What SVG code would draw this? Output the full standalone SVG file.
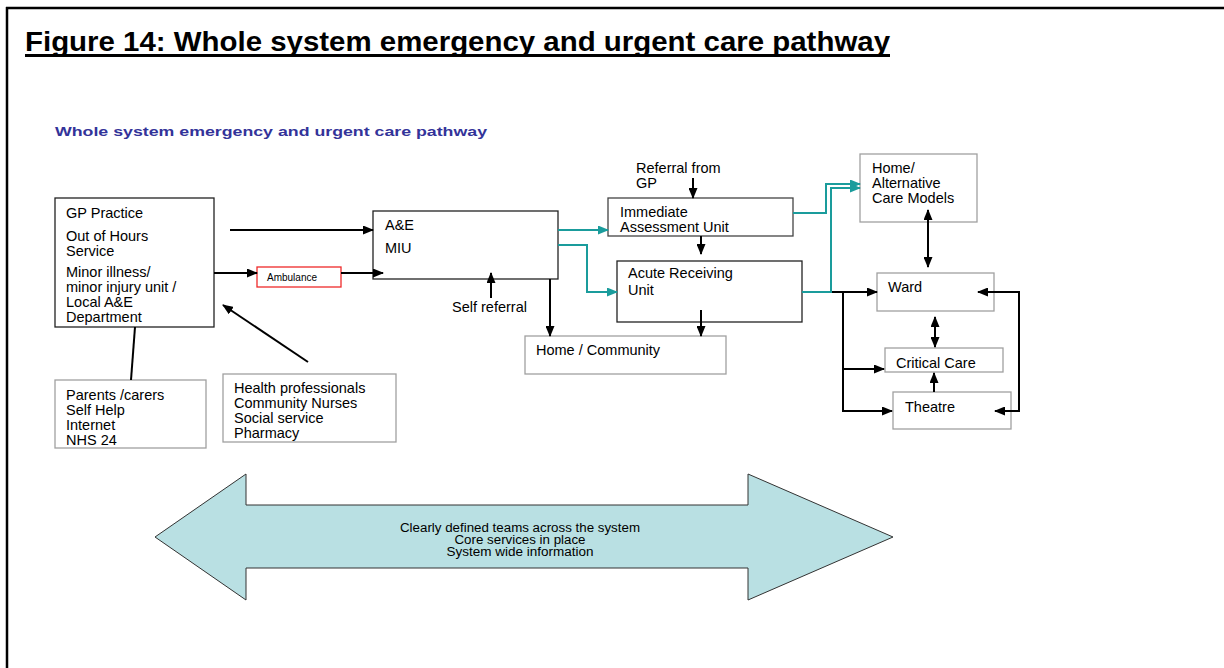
<svg xmlns="http://www.w3.org/2000/svg" width="1224" height="668" viewBox="0 0 1224 668">
<defs>
<marker id="ah" markerUnits="userSpaceOnUse" markerWidth="11" markerHeight="9" refX="10" refY="4.5" orient="auto"><path d="M0,0 L11,4.5 L0,9 z" fill="#000"/></marker>
<marker id="ahs" markerUnits="userSpaceOnUse" markerWidth="11" markerHeight="9" refX="10" refY="4.5" orient="auto-start-reverse"><path d="M0,0 L11,4.5 L0,9 z" fill="#000"/></marker>
<marker id="at" markerUnits="userSpaceOnUse" markerWidth="11" markerHeight="9" refX="10" refY="4.5" orient="auto"><path d="M0,0 L11,4.5 L0,9 z" fill="#1a9c9c"/></marker>
</defs>
<style>
text{font-family:"Liberation Sans",Arial,sans-serif;fill:#000}
.t{font-size:14.5px}
.bk{fill:#fff;stroke:#222;stroke-width:1.3}
.gy{fill:#fff;stroke:#a0a0a0;stroke-width:1.3}
.c{fill:none;stroke:#000;stroke-width:2}
.tl{fill:none;stroke:#1a9c9c;stroke-width:2}
.n{font-size:12.5px}
</style>
<rect x="0" y="0" width="1224" height="668" fill="#fff"/>
<g id="frame">
<line x1="6" y1="8" x2="1224" y2="8" stroke="#000" stroke-width="2.5"/>
<line x1="7" y1="7" x2="7" y2="668" stroke="#000" stroke-width="2.5"/>
</g>
<g id="title">
<text x="25" y="51" font-size="27" font-weight="bold" textLength="865" lengthAdjust="spacingAndGlyphs">Figure 14: Whole system emergency and urgent care pathway</text>
<line x1="25" y1="55.5" x2="890" y2="55.5" stroke="#000" stroke-width="3"/>
<text x="55" y="136" font-size="13" font-weight="bold" style="fill:#333399" textLength="432" lengthAdjust="spacingAndGlyphs">Whole system emergency and urgent care pathway</text>
</g>
<g id="gp">
<rect class="bk" x="55" y="198" width="159" height="129"/>
<text class="t" x="66" y="218">GP Practice</text>
<text class="t" x="66" y="241">Out of Hours</text>
<text class="t" x="66" y="256">Service</text>
<text class="t" x="66" y="277">Minor illness/</text>
<text class="t" x="66" y="292">minor injury unit /</text>
<text class="t" x="66" y="307">Local A&amp;E</text>
<text class="t" x="66" y="322">Department</text>
</g>
<g id="ambulance">
<rect x="257" y="267" width="84" height="20" fill="#fff" stroke="#ee2a2a" stroke-width="1.3"/>
<text x="267" y="281" font-size="10">Ambulance</text>
</g>
<g id="ae">
<rect class="bk" x="373" y="211" width="185" height="68"/>
<text class="t" x="385" y="230">A&amp;E</text>
<text class="t" x="385" y="253">MIU</text>
</g>
<g id="selfref">
<text class="t" x="452" y="312">Self referral</text>
</g>
<g id="parents">
<rect class="gy" x="55" y="380" width="151" height="68"/>
<text class="t" x="66" y="400">Parents /carers</text>
<text class="t" x="66" y="415">Self Help</text>
<text class="t" x="66" y="430">Internet</text>
<text class="t" x="66" y="445">NHS 24</text>
</g>
<g id="health">
<rect class="gy" x="223" y="374" width="173" height="68"/>
<text class="t" x="234" y="393">Health professionals</text>
<text class="t" x="234" y="408">Community Nurses</text>
<text class="t" x="234" y="423">Social service</text>
<text class="t" x="234" y="438">Pharmacy</text>
</g>
<g id="homecommunity">
<rect class="gy" x="525" y="336" width="201" height="38"/>
<text class="t" x="536" y="355">Home / Community</text>
</g>
<g id="referralgp">
<text class="t" x="636" y="173">Referral from</text>
<text class="t" x="636" y="188">GP</text>
</g>
<g id="iau">
<rect class="bk" x="608" y="198" width="185" height="38" style="stroke:#444"/>
<text class="t" x="620" y="217">Immediate</text>
<text class="t" x="620" y="232">Assessment Unit</text>
</g>
<g id="aru">
<rect class="bk" x="617" y="261" width="185" height="61"/>
<text class="t" x="628" y="278">Acute Receiving</text>
<text class="t" x="628" y="295">Unit</text>
</g>
<g id="homealt">
<rect class="gy" x="860" y="154" width="117" height="68"/>
<text class="t" x="872" y="173">Home/</text>
<text class="t" x="872" y="188">Alternative</text>
<text class="t" x="872" y="203">Care Models</text>
</g>
<g id="ward">
<rect class="gy" x="877" y="273" width="117" height="38"/>
<text class="t" x="888" y="292">Ward</text>
</g>
<g id="criticalcare">
<rect class="gy" x="885" y="348" width="118" height="24"/>
<text class="t" x="896" y="368">Critical Care</text>
</g>
<g id="theatre">
<rect class="gy" x="893" y="392" width="118" height="37"/>
<text class="t" x="905" y="412">Theatre</text>
</g>
<g id="connectors">
<line class="c" x1="230" y1="230" x2="373" y2="230" marker-end="url(#ah)"/>
<line class="c" x1="214" y1="273" x2="257" y2="273" marker-end="url(#ah)"/>
<line class="c" x1="341" y1="273" x2="383" y2="273" marker-end="url(#ah)"/>
<line class="c" x1="308" y1="362" x2="223" y2="305" marker-end="url(#ah)"/>
<line class="c" x1="135" y1="327" x2="131" y2="380"/>
<line class="c" x1="491" y1="298" x2="491" y2="273" marker-end="url(#ah)"/>
<line class="c" x1="550" y1="279" x2="550" y2="336" marker-end="url(#ah)"/>
<line class="c" x1="693" y1="178" x2="693" y2="198" marker-end="url(#ah)"/>
<line class="c" x1="701" y1="236" x2="701" y2="254" marker-end="url(#ah)"/>
<line class="c" x1="701" y1="310" x2="701" y2="336" marker-end="url(#ah)"/>
<line class="c" x1="802" y1="292" x2="877" y2="292" marker-end="url(#ah)"/>
<path class="c" d="M843,292 V411 H892" marker-end="url(#ah)"/>
<line class="c" x1="843" y1="369" x2="884" y2="369" marker-end="url(#ah)"/>
<line class="c" x1="928" y1="210" x2="928" y2="267" marker-start="url(#ahs)" marker-end="url(#ahs)"/>
<line class="c" x1="935" y1="317" x2="935" y2="347" marker-start="url(#ahs)" marker-end="url(#ahs)"/>
<line class="c" x1="934" y1="392" x2="934" y2="373" marker-end="url(#ah)"/>
<path class="c" d="M978,292 H1019 V411 H995" marker-start="url(#ahs)" marker-end="url(#ahs)"/>
<line class="tl" x1="558" y1="230" x2="608" y2="230" marker-end="url(#at)"/>
<path class="tl" d="M558,245 H587 V292 H617" marker-end="url(#at)"/>
<path class="tl" d="M793,213 H826 V184 H860" marker-end="url(#at)"/>
<path class="tl" d="M802,292 H831 V188 H860" marker-end="url(#at)"/>
</g>
<g id="bigarrow">
<path d="M155,537 L246,474 V505 H748 V474 L893,537 L748,600 V568 H246 V600 Z" fill="#b9e0e3" stroke="#333" stroke-width="1"/>
<text class="n" x="520" y="532" text-anchor="middle" textLength="240" lengthAdjust="spacingAndGlyphs">Clearly defined teams across the system</text>
<text class="n" x="520" y="544" text-anchor="middle" textLength="131" lengthAdjust="spacingAndGlyphs">Core services in place</text>
<text class="n" x="520" y="556" text-anchor="middle" textLength="147" lengthAdjust="spacingAndGlyphs">System wide information</text>
</g>
</svg>
